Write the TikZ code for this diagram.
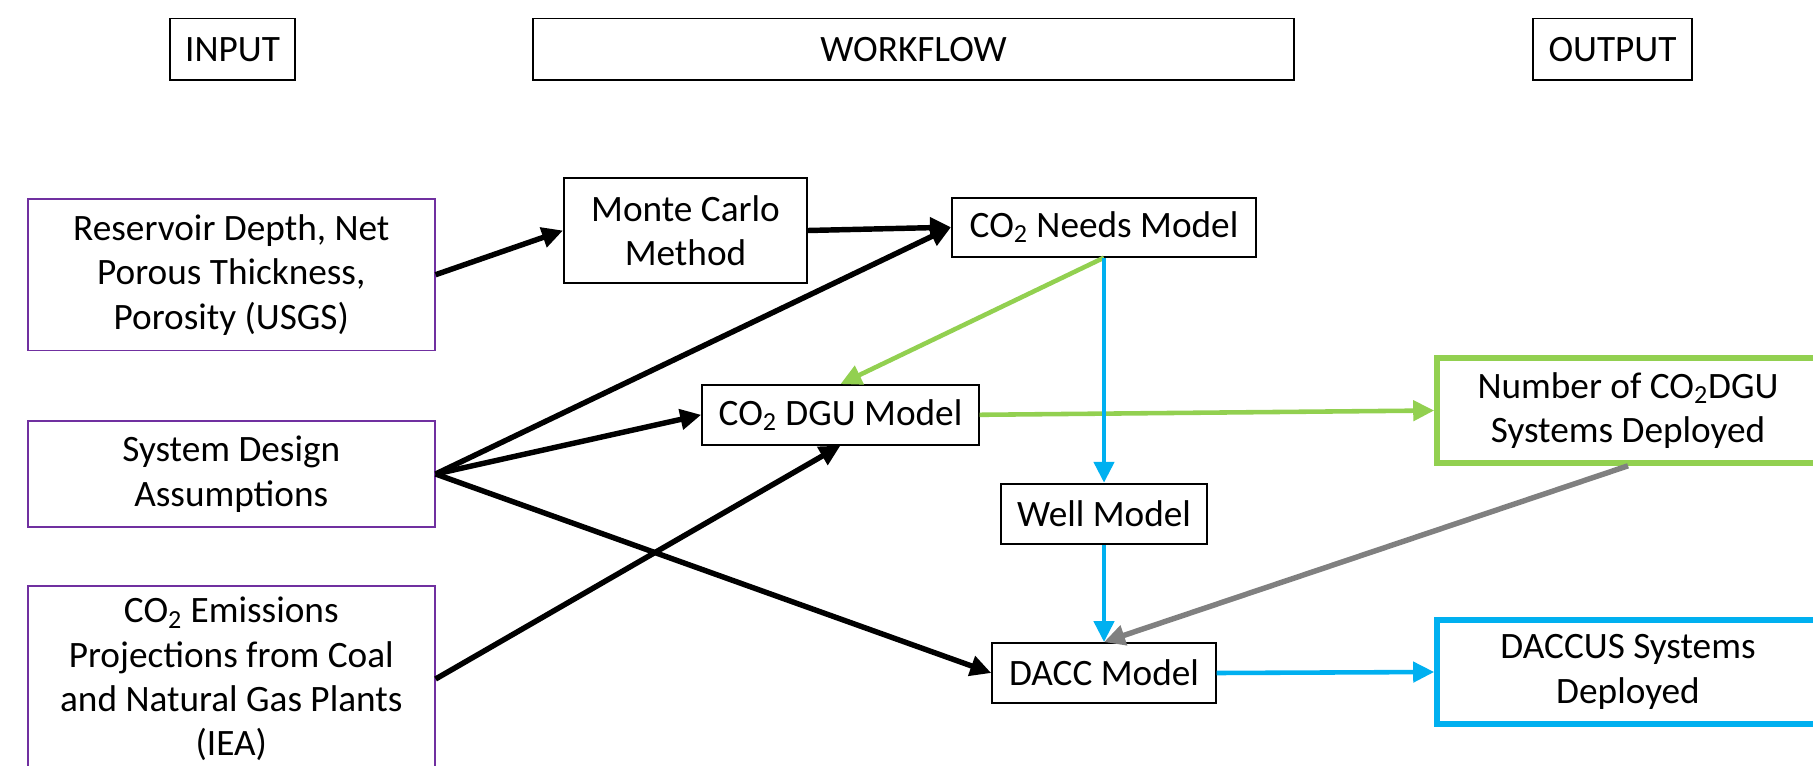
\documentclass[tikz,border=0pt]{standalone}
\usepackage{fontspec}
\setmainfont{Carlito}
\usepackage{xcolor}
\usepackage{tikz}
\usetikzlibrary{positioning,arrows.meta,calc}
\definecolor{inpurple}{RGB}{112,48,160}
\definecolor{dgugreen}{RGB}{146,208,80}
\definecolor{daccblue}{RGB}{0,176,240}
\definecolor{linkgray}{RGB}{128,128,128}
\newcommand{\cotwo}{CO\textsubscript{2}}

\begin{document}
\begin{tikzpicture}[
    box/.style={rectangle, draw=black, line width=1.1pt, align=center, inner sep=2pt, font=\fontsize{21.2}{25.3}\selectfont},
    inbox/.style={box, draw=inpurple, line width=0.9pt, minimum width=8.14cm},
    outbox/.style={box, line width=3.2pt, minimum width=7.64cm},
    link/.style={line width=3.1pt, -{Triangle[length=0.42cm, width=0.4cm]}},
]
    \useasboundingbox (0,0) rectangle (36.26,-15.3);

    % headers
    \node[box, minimum width=2.5cm, minimum height=1.23cm] (hin) at (4.65, -0.985) {INPUT};
    \node[box, minimum width=15.22cm, minimum height=1.23cm] (hwork) at (18.27, -0.985) {WORKFLOW};
    \node[box, minimum width=3.18cm, minimum height=1.23cm] (hout) at (32.25, -0.985) {OUTPUT};

    % inputs
    \node[inbox, minimum height=3.03cm] (resv) at (4.626, -5.494) {Reservoir Depth, Net\\Porous Thickness,\\Porosity (USGS)};
    \node[inbox, minimum height=2.12cm] (sysd) at (4.626, -9.48) {System Design\\Assumptions};
    \node[inbox, minimum height=3.72cm] (emis) at (4.626, -13.58) {\cotwo{} Emissions\\Projections from Coal\\and Natural Gas Plants\\(IEA)};

    % workflow
    \node[box, minimum width=4.86cm, minimum height=2.1cm] (mc) at (13.71, -4.61) {Monte Carlo\\Method};
    \node[box, minimum width=6.08cm, minimum height=1.18cm] (needs) at (22.08, -4.544) {\cotwo{} Needs Model};
    \node[box, minimum width=5.53cm, minimum height=1.19cm] (dgu) at (16.81, -8.296) {\cotwo{} DGU Model};
    \node[box, minimum width=4.13cm, minimum height=1.21cm] (well) at (22.08, -10.28) {Well Model};
    \node[box, minimum width=4.47cm, minimum height=1.2cm] (dacc) at (22.08, -13.46) {DACC Model};

    % outputs
    \node[outbox, draw=dgugreen, minimum height=2.1cm] (ndgu) at (32.56, -8.21) {Number of \cotwo{}DGU\\Systems Deployed};
    \node[outbox, draw=daccblue, minimum height=2.08cm] (ndacc) at (32.56, -13.44) {DACCUS Systems\\Deployed};

    % connectors
    \draw[link] (resv.east) -- (mc.west);
    \draw[link] (mc.east) -- (needs.west);
    \draw[link] (sysd.east) -- (needs.west);
    \draw[link] (sysd.east) -- (dgu.west);
    \draw[link] (sysd.east) -- (dacc.west);
    \draw[link] (emis.east) -- (dgu.south);
    \draw[link, line width=2.6pt, dgugreen] (needs.south) -- (dgu.north);
    \draw[link, line width=2.6pt, dgugreen] (dgu.east) -- (ndgu.west);
    \draw[link, line width=2.6pt, daccblue] (needs.south) -- (well.north);
    \draw[link, line width=2.6pt, daccblue] (well.south) -- (dacc.north);
    \draw[link, line width=2.6pt, daccblue] (dacc.east) -- (ndacc.west);
    \draw[link, line width=3.1pt, linkgray] (ndgu.south) -- (dacc.north);
\end{tikzpicture}
\end{document}
